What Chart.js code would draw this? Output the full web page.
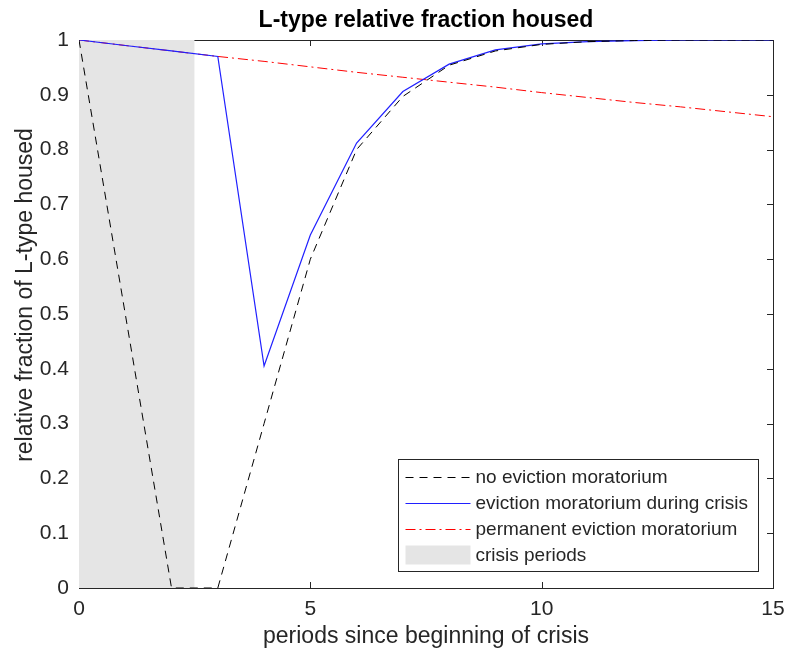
<!DOCTYPE html>
<html>
<head>
<meta charset="utf-8">
<title>L-type relative fraction housed</title>
<script src="https://cdn.jsdelivr.net/npm/chart.js@4/dist/chart.umd.min.js"></script>
<style>
    body { margin: 0; background: #fff; }
    #wrap { width: 786px; height: 654px; }
</style>
</head>
<body>
<div id="wrap"><canvas id="graficoFraccion" width="786" height="654"></canvas></div>
<script>
// datos
const periodos = [0, 1, 2, 3, 4, 5, 6, 7, 8, 9, 10, 11, 12, 13, 14, 15];
const sinMoratoria = [1, 0.5, 0, 0, 0.30, 0.60, 0.80, 0.897, 0.954, 0.980, 0.992, 0.997, 0.999, 1, 1, 1];
const moratoriaCrisis = [1, 0.99, 0.98, 0.97, 0.405, 0.644, 0.812, 0.906, 0.956, 0.982, 0.993, 0.997, 0.999, 1, 1, 1];
const moratoriaPermanente = [1, 0.990, 0.980, 0.970, 0.961, 0.951, 0.941, 0.932, 0.923, 0.914, 0.904, 0.895, 0.886, 0.878, 0.869, 0.860];
const periodoCrisis = [0, 2.5];
const etiquetas = ['no eviction moratorium', 'eviction moratorium during crisis', 'permanent eviction moratorium', 'crisis periods'];

const FUENTE = '"Liberation Sans", Arial, Helvetica, sans-serif';
const GRIS = '#262626';

function puntos(valores) {
    return periodos.map((p, i) => ({ x: p, y: valores[i] }));
}

// ejes estilo matlab: caja, marcas hacia adentro, titulo y leyenda
const ejesMatlab = {
    id: 'ejesMatlab',
    beforeDatasetsDraw(chart) {
        const ctx = chart.ctx;
        const a = chart.chartArea;
        const sx = chart.scales.x;
        const sy = chart.scales.y;
        ctx.save();
        ctx.strokeStyle = GRIS;
        ctx.lineWidth = 1;
        ctx.strokeRect(Math.round(a.left) + 0.5, Math.round(a.top) + 0.5, Math.round(a.right - a.left), Math.round(a.bottom - a.top));
        ctx.beginPath();
        sx.ticks.forEach(t => {
            const px = Math.round(sx.getPixelForValue(t.value)) + 0.5;
            ctx.moveTo(px, a.bottom); ctx.lineTo(px, a.bottom - 6);
            ctx.moveTo(px, a.top); ctx.lineTo(px, a.top + 6);
        });
        sy.ticks.forEach(t => {
            const py = Math.round(sy.getPixelForValue(t.value)) + 0.5;
            ctx.moveTo(a.left, py); ctx.lineTo(a.left + 6, py);
            ctx.moveTo(a.right, py); ctx.lineTo(a.right - 6, py);
        });
        ctx.stroke();
        ctx.restore();
    },
    afterDraw(chart) {
        const ctx = chart.ctx;
        const a = chart.chartArea;
        ctx.save();
        // titulo
        ctx.fillStyle = '#000';
        ctx.font = 'bold 23px ' + FUENTE;
        ctx.textAlign = 'center';
        ctx.textBaseline = 'middle';
        ctx.fillText('L-type relative fraction housed', (a.left + a.right) / 2, 21);

        // titulo eje y
        ctx.fillStyle = GRIS;
        ctx.font = '23px ' + FUENTE;
        ctx.translate(26, (a.top + a.bottom) / 2 - 19);
        ctx.rotate(-Math.PI / 2);
        ctx.fillText('relative fraction of L-type housed', 0, 0);
        ctx.setTransform(1, 0, 0, 1, 0, 0);

        // leyenda
        const ancho = 360, alto = 112;
        const x0 = Math.round(a.right - 15 - ancho) + 0.5;
        const y0 = Math.round(a.bottom - 17 - alto) + 0.5;
        ctx.fillStyle = '#fff';
        ctx.fillRect(x0, y0, ancho, alto);
        ctx.strokeStyle = GRIS;
        ctx.lineWidth = 1;
        ctx.strokeRect(x0, y0, ancho, alto);
        ctx.font = '19px ' + FUENTE;
        ctx.textAlign = 'left';
        ctx.textBaseline = 'middle';
        chart.data.datasets.forEach((ds, i) => {
            const yy = y0 + 17 + i * 26;
            if (ds.fill) {
                ctx.fillStyle = ds.backgroundColor;
                ctx.fillRect(x0 + 7, yy - 9, 65, 19);
            } else {
                ctx.strokeStyle = ds.borderColor;
                ctx.lineWidth = ds.borderWidth;
                ctx.setLineDash(ds.borderDash || []);
                ctx.beginPath();
                ctx.moveTo(x0 + 7, Math.round(yy) + 0.5);
                ctx.lineTo(x0 + 72, Math.round(yy) + 0.5);
                ctx.stroke();
                ctx.setLineDash([]);
            }
            ctx.fillStyle = GRIS;
            ctx.fillText(ds.label, x0 + 77, yy + 1);
        });
        ctx.restore();
    }
};

const ctx = document.getElementById('graficoFraccion').getContext('2d');
new Chart(ctx, {
    type: 'line',
    data: {
        datasets: [{
            label: etiquetas[0],
            data: puntos(sinMoratoria),
            borderColor: '#000000',
            borderWidth: 1,
            borderDash: [8, 6],
            pointRadius: 0,
            order: 0
        }, {
            label: etiquetas[1],
            data: puntos(moratoriaCrisis),
            borderColor: '#2020ff',
            borderWidth: 1.2,
            pointRadius: 0,
            order: 0
        }, {
            label: etiquetas[2],
            data: puntos(moratoriaPermanente),
            borderColor: '#ff0000',
            borderWidth: 1,
            borderDash: [10, 4, 2, 4],
            pointRadius: 0,
            order: 0
        }, {
            label: etiquetas[3],
            data: periodoCrisis.map(p => ({ x: p, y: 1 })),
            borderWidth: 0,
            borderColor: 'rgba(0,0,0,0)',
            backgroundColor: '#e5e5e5',
            fill: 'origin',
            pointRadius: 0,
            order: 5
        }]
    },
    options: {
        responsive: false,
        animation: false,
        events: [],
        layout: {
            padding: { top: 40, right: 13, left: 0, bottom: 0 }
        },
        scales: {
            x: {
                type: 'linear',
                min: 0,
                max: 15,
                afterFit: scale => {
                    scale.height = 66;
                    scale.paddingLeft = 0;
                    scale.paddingRight = 0;
                },
                grid: { display: false, drawTicks: false },
                border: { display: false },
                ticks: {
                    stepSize: 5,
                    padding: 9,
                    color: GRIS,
                    font: { size: 21, family: FUENTE }
                },
                title: {
                    display: true,
                    text: 'periods since beginning of crisis',
                    color: GRIS,
                    font: { size: 23, family: FUENTE },
                    padding: { top: 0, bottom: 4 }
                }
            },
            y: {
                min: 0,
                max: 1,
                afterFit: scale => {
                    scale.width = 79;
                    scale.paddingTop = 0;
                    scale.paddingBottom = 0;
                },
                grid: { display: false, drawTicks: false },
                border: { display: false },
                ticks: {
                    stepSize: 0.1,
                    padding: 10,
                    color: GRIS,
                    font: { size: 21, family: FUENTE },
                    callback: value => String(Math.round(value * 10) / 10)
                }
            }
        },
        plugins: {
            legend: { display: false },
            title: { display: false },
            tooltip: { enabled: false }
        }
    },
    plugins: [ejesMatlab]
});
</script>
</body>
</html>
